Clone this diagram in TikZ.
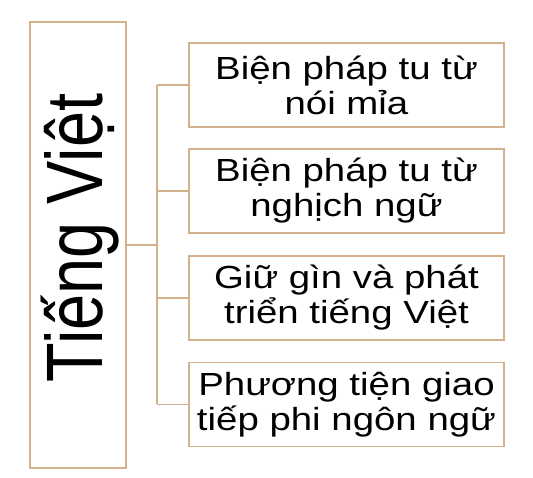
\documentclass[tikz,border=0pt]{standalone}
\usepackage{fontspec}
\setmainfont{Liberation Sans}
\newfontfamily\boxfont[FakeStretch=1.2]{Liberation Sans}
\newfontfamily\sidefont[FakeStretch=0.81]{Liberation Sans}
\definecolor{edge}{RGB}{212,176,140}
\begin{document}
\begin{tikzpicture}[x=1pt,y=1pt,
  itembox/.style={draw=edge,line width=1.4pt,minimum width=315pt,minimum height=84pt,
    inner sep=0pt,align=center,font=\boxfont\fontsize{32}{35}\selectfont},
  sidebox/.style={draw=edge,line width=1.4pt,minimum width=96pt,minimum height=446pt,inner sep=0pt},
  link/.style={draw=edge,line width=1.4pt}]
\useasboundingbox (0,0) rectangle (533,478);
\node[sidebox] (root) at (78,233) {};
\node[rotate=90,font=\sidefont\fontsize{80}{80}\selectfont] (roottext) at (80,240) {Tiếng Việt};
\node[itembox] (b1) at (346.5,393) {Biện pháp tu từ\\nói mỉa};
\node[itembox] (b2) at (346.5,287) {Biện pháp tu từ\\nghịch ngữ};
\node[itembox] (b3) at (346.5,180) {Giữ gìn và phát\\triển tiếng Việt};
\node[itembox] (b4) at (346.5,73.5) {Phương tiện giao\\tiếp phi ngôn ngữ};
\coordinate (j) at (157,233);
\coordinate (t1) at (157,393);
\coordinate (t4) at (157,73.5);
\draw[link] (root.east) -- (j);
\draw[link] (t1) -- (t4);
\draw[link] (t1) -- (b1.west);
\draw[link] (b2.west -| j) -- (b2.west);
\draw[link] (b3.west -| j) -- (b3.west);
\draw[link] (t4) -- (b4.west);
\end{tikzpicture}
\end{document}
